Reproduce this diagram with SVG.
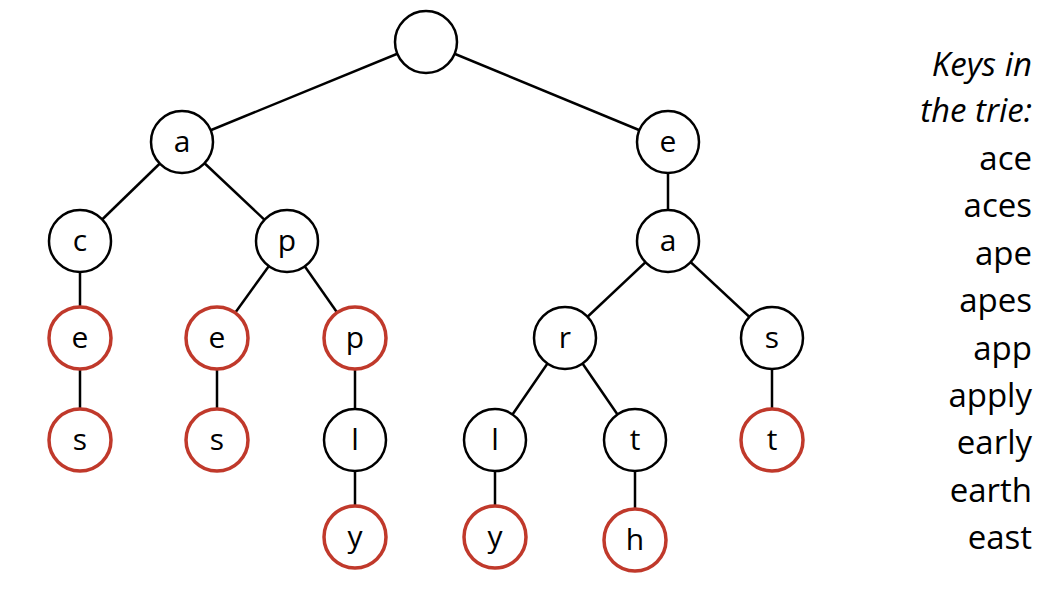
<svg xmlns="http://www.w3.org/2000/svg" width="1057" height="607" viewBox="0 0 1057 607">
<style>
.n circle{fill:#fff;stroke:#000;stroke-width:2.5}
.k circle{stroke:#c0392b;stroke-width:3.5}
.n text{font-family:"Open Sans","Noto Sans",sans-serif;font-size:30px;text-anchor:middle;fill:#000}
#edges line{stroke:#000;stroke-width:2.5}
.side{font-family:"Open Sans","Noto Sans",sans-serif;font-size:33px;text-anchor:end;fill:#000}
</style>
<rect width="1057" height="607" fill="#fff"/>
<g id="edges">
<line x1="426" y1="42" x2="182" y2="142"/><line x1="426" y1="42" x2="668" y2="142"/>
<line x1="182" y1="142" x2="80" y2="241"/><line x1="182" y1="142" x2="287" y2="241"/>
<line x1="668" y1="142" x2="668" y2="241"/>
<line x1="80" y1="241" x2="80" y2="338"/><line x1="80" y1="338" x2="80" y2="440"/>
<line x1="287" y1="241" x2="217" y2="338"/><line x1="287" y1="241" x2="355" y2="338"/>
<line x1="217" y1="338" x2="217" y2="440"/><line x1="355" y1="338" x2="355" y2="440"/><line x1="355" y1="440" x2="355" y2="537"/>
<line x1="668" y1="241" x2="565" y2="338"/><line x1="668" y1="241" x2="772" y2="338"/>
<line x1="565" y1="338" x2="495" y2="440"/><line x1="565" y1="338" x2="635" y2="440"/>
<line x1="495" y1="440" x2="495" y2="537"/><line x1="635" y1="440" x2="635" y2="540"/>
<line x1="772" y1="338" x2="772" y2="440"/>
</g>
<g id="root" class="n"><circle cx="426" cy="42" r="31"/></g>
<g id="n_a" class="n"><circle cx="182" cy="142" r="31"/><text x="182" y="152">a</text></g>
<g id="n_e" class="n"><circle cx="668" cy="142" r="31"/><text x="668" y="152">e</text></g>
<g id="n_ac" class="n"><circle cx="80" cy="241" r="31"/><text x="80" y="251">c</text></g>
<g id="n_ap" class="n"><circle cx="287" cy="241" r="31"/><text x="287" y="251">p</text></g>
<g id="n_ea" class="n"><circle cx="668" cy="241" r="31"/><text x="668" y="251">a</text></g>
<g id="n_ace" class="n k"><circle cx="80" cy="338" r="31"/><text x="80" y="348">e</text></g>
<g id="n_ape" class="n k"><circle cx="217" cy="338" r="31"/><text x="217" y="348">e</text></g>
<g id="n_app" class="n k"><circle cx="355" cy="338" r="31"/><text x="355" y="348">p</text></g>
<g id="n_ear" class="n"><circle cx="565" cy="338" r="31"/><text x="565" y="348">r</text></g>
<g id="n_eas" class="n"><circle cx="772" cy="338" r="31"/><text x="772" y="348">s</text></g>
<g id="n_aces" class="n k"><circle cx="80" cy="440" r="31"/><text x="80" y="450">s</text></g>
<g id="n_apes" class="n k"><circle cx="217" cy="440" r="31"/><text x="217" y="450">s</text></g>
<g id="n_appl" class="n"><circle cx="355" cy="440" r="31"/><text x="355" y="450">l</text></g>
<g id="n_earl" class="n"><circle cx="495" cy="440" r="31"/><text x="495" y="450">l</text></g>
<g id="n_eart" class="n"><circle cx="635" cy="440" r="31"/><text x="635" y="450">t</text></g>
<g id="n_east" class="n k"><circle cx="772" cy="440" r="31"/><text x="772" y="450">t</text></g>
<g id="n_apply" class="n k"><circle cx="355" cy="537" r="31"/><text x="355" y="547">y</text></g>
<g id="n_early" class="n k"><circle cx="495" cy="537" r="31"/><text x="495" y="547">y</text></g>
<g id="n_earth" class="n k"><circle cx="635" cy="540" r="31"/><text x="635" y="550">h</text></g>
<g id="legend" class="side">
<text x="1032" y="76" font-style="italic">Keys in</text>
<text x="1032" y="122" font-style="italic">the trie:</text>
<text x="1032" y="170">ace</text>
<text x="1032" y="217">aces</text>
<text x="1032" y="265">ape</text>
<text x="1032" y="312">apes</text>
<text x="1032" y="360">app</text>
<text x="1032" y="407">apply</text>
<text x="1032" y="454">early</text>
<text x="1032" y="502">earth</text>
<text x="1032" y="549">east</text>
</g>
</svg>
